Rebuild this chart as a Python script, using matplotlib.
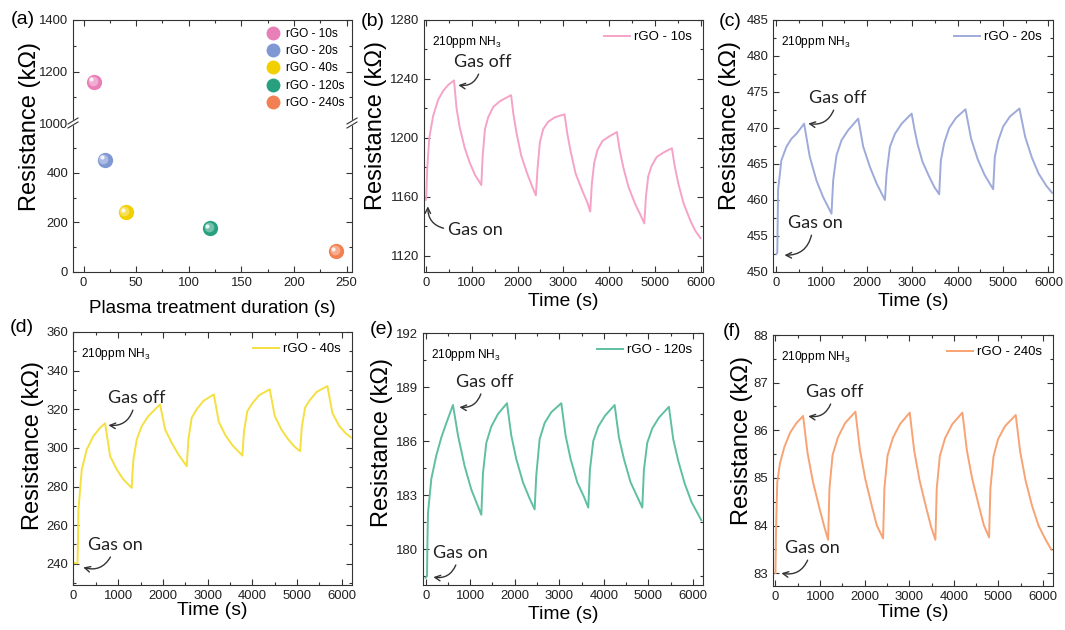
import numpy as np
import matplotlib
matplotlib.use("Agg")
import matplotlib.pyplot as plt
from matplotlib import font_manager
from matplotlib.ticker import MultipleLocator
from matplotlib.transforms import offset_copy
from matplotlib.colors import to_rgb
from matplotlib.lines import Line2D

# ---- panel (a): base resistance vs plasma time
durations = [10, 20, 40, 120, 240]
base_res = [1160, 450, 240, 176, 83]
sample_names = ["rGO - 10s", "rGO - 20s", "rGO - 40s", "rGO - 120s", "rGO - 240s"]
sphere_colors = ["#e97fb8", "#7f97d3", "#f2d000", "#27a080", "#f28052"]
line_colors = ["#f5a3c7", "#9eaad9", "#f4e040", "#5fbfa2", "#f7a374"]

# ---- panels (b)-(f): response to 210 ppm NH3
b_time = [0, 10, 30, 75, 160, 270, 380, 490, 615,
          670, 740, 850, 960, 1070, 1210,
          1240, 1290, 1360, 1470, 1620, 1860,
          1910, 1980, 2080, 2220, 2320, 2400,
          2436, 2487, 2560, 2670, 2815, 3025,
          3085, 3157, 3265, 3415, 3525, 3585,
          3621, 3672, 3745, 3855, 4000, 4167,
          4227, 4307, 4417, 4567, 4677, 4764,
          4800, 4851, 4924, 5034, 5179, 5367,
          5427, 5507, 5617, 5767, 5877, 5990]
b_res = [1158, 1160, 1179, 1200, 1215, 1226, 1232, 1236, 1239,
         1220, 1207, 1193, 1183, 1175, 1168,
         1188, 1206, 1214, 1221, 1225, 1229,
         1216, 1203, 1188, 1175, 1167, 1161,
         1179, 1197, 1206, 1211, 1214, 1216,
         1203, 1191, 1176, 1164, 1156, 1150,
         1169, 1183, 1192, 1198, 1201, 1204,
         1192, 1180, 1167, 1155, 1148, 1142,
         1160, 1174, 1181, 1187, 1190, 1193,
         1181, 1169, 1156, 1144, 1137, 1132]

c_time = [0, 20, 37, 110, 221, 331, 442, 589, 611,
          736, 884, 1031, 1215,
          1252, 1325, 1436, 1583, 1804,
          1915, 2062, 2209, 2393,
          2430, 2504, 2614, 2762, 2983,
          3043, 3115, 3223, 3373, 3483, 3590,
          3627, 3700, 3810, 3960, 4170,
          4295, 4443, 4590, 4780,
          4817, 4890, 5000, 5150, 5360,
          5485, 5633, 5780, 5950, 6080]
c_res = [452.5, 452.7, 461.4, 465.5, 467.4, 468.5, 469.2, 470.4, 470.6,
         466.0, 462.7, 460.4, 458.1,
         462.7, 466.2, 468.3, 469.7, 471.3,
         467.4, 464.6, 462.3, 460.0,
         463.7, 467.4, 469.2, 470.6, 472.0,
         469.9, 467.7, 465.3, 463.2, 461.8, 460.8,
         465.5, 467.9, 470.0, 471.4, 472.6,
         468.5, 465.6, 463.5, 461.5,
         466.0, 468.2, 470.2, 471.6, 472.7,
         468.8, 465.9, 463.7, 462.0, 461.0]

d_time = [0, 90, 100, 112, 186, 298, 447, 596, 708,
          820, 969, 1118, 1304,
          1315, 1341, 1416, 1528, 1677, 1937,
          2049, 2198, 2347, 2534,
          2571, 2645, 2757, 2906, 3140,
          3250, 3400, 3550, 3778,
          3815, 3889, 4001, 4150, 4390,
          4502, 4651, 4800, 4950, 5070,
          5107, 5181, 5293, 5442, 5680,
          5792, 5941, 6090, 6200]
d_res = [240.3, 240.3, 250, 268, 288.8, 299.2, 306.1, 310.4, 312.7,
         295.7, 288.8, 283.6, 279.3,
         285, 294, 304.4, 311.3, 316.5, 322.5,
         309.6, 302.6, 296.6, 290.5,
         304.4, 315.6, 320, 324.3, 327.7,
         313.5, 306.5, 301.5, 296,
         308.7, 319.0, 323.1, 327.2, 330.3,
         316.5, 309.5, 304.5, 300.5, 298.3,
         310.8, 320.9, 324.9, 329.0, 332.0,
         318, 311.5, 307.5, 305.5]

e_time = [0, 30, 40, 52, 127, 239, 352, 464, 613,
          726, 875, 1025, 1137, 1249,
          1286, 1361, 1473, 1623, 1825,
          1922, 2034, 2184, 2334, 2446,
          2483, 2558, 2670, 2820, 3044,
          3141, 3253, 3403, 3553, 3650,
          3687, 3762, 3874, 4024, 4241,
          4338, 4450, 4600, 4750, 4862,
          4899, 4974, 5086, 5236, 5460,
          5557, 5669, 5819, 5969, 6100, 6186]
e_res = [178.4, 178.5, 180.5, 182.0, 183.9, 185.2, 186.2, 187.0, 188.0,
         186.3, 184.6, 183.3, 182.6, 181.9,
         184.2, 185.9, 186.8, 187.5, 188.1,
         186.3, 185.0, 183.7, 182.8, 182.2,
         184.1, 186.1, 187.0, 187.6, 188.1,
         186.3, 185.0, 183.7, 182.9, 182.3,
         184.4, 186.0, 186.8, 187.4, 188.0,
         186.2, 185.0, 183.7, 182.9, 182.3,
         184.4, 185.9, 186.7, 187.3, 187.9,
         186.1, 184.9, 183.6, 182.6, 182.0, 181.6]

f_time = [0, 15, 40, 100, 200, 330, 470, 620,
          720, 840, 990, 1100, 1181,
          1211, 1281, 1401, 1561, 1794,
          1894, 2014, 2164, 2274, 2414,
          2444, 2514, 2634, 2794, 3012,
          3112, 3232, 3382, 3492, 3587,
          3617, 3687, 3807, 3967, 4193,
          4293, 4413, 4563, 4673, 4791,
          4821, 4891, 4991, 5151, 5389,
          5489, 5609, 5759, 5900, 6050, 6188]
f_res = [83.0, 84.0, 84.9, 85.3, 85.65, 85.95, 86.15, 86.3,
         85.52, 84.92, 84.35, 83.96, 83.7,
         84.78, 85.48, 85.85, 86.15, 86.39,
         85.59, 84.98, 84.4, 84.0, 83.73,
         84.79, 85.47, 85.84, 86.13, 86.37,
         85.57, 84.95, 84.37, 83.97, 83.7,
         84.77, 85.46, 85.84, 86.13, 86.37,
         85.58, 84.98, 84.41, 84.01, 83.75,
         84.78, 85.45, 85.81, 86.09, 86.32,
         85.55, 84.95, 84.4, 84.0, 83.72, 83.49]

# fonts: narrow face for horizontal texts if present
available = {f.name for f in font_manager.fontManager.ttflist}
if "Liberation Sans Narrow" in available:
    narrow, k = "Liberation Sans Narrow", 1.0
else:
    narrow, k = "Liberation Sans", 0.9
plt.rcParams["font.family"] = ["Liberation Sans", "DejaVu Sans"]
plt.rcParams["mathtext.fontset"] = "custom"
plt.rcParams["mathtext.rm"] = narrow
arrow_font = "Lato" if "Lato" in available else "DejaVu Sans"

W, H = 1065, 630
fig = plt.figure(figsize=(W / 100, H / 100), dpi=100)


def px_box(left, top, right, bottom):
    return [left / W, 1 - bottom / H, (right - left) / W, (bottom - top) / H]


def style_axis(ax):
    for s in ax.spines.values():
        s.set_linewidth(0.8)
        s.set_color("#333333")
    ax.tick_params(which="both", direction="in", top=True, right=True,
                   colors="#333333", labelcolor="#222222",
                   labelsize=10.5 * k, labelfontfamily=narrow, width=0.8)
    ax.tick_params(which="major", length=4)
    ax.tick_params(which="minor", length=2)


def sphere(ax, x, y, color):
    base = np.array(to_rgb(color))
    ax.plot(x, y, "o", ms=11, color=base, mec="none", zorder=3, clip_on=False)
    mid = base + (1 - base) * 0.35
    tr = offset_copy(ax.transData, fig=fig, x=-0.9, y=0.9, units="points")
    ax.plot(x, y, "o", ms=7, color=mid, mec="none", zorder=4, transform=tr)
    tr2 = offset_copy(ax.transData, fig=fig, x=-2.0, y=2.0, units="points")
    ax.plot(x, y, "o", ms=3, color="white", alpha=0.85, mec="none", zorder=5,
            transform=tr2)


# ---------- panel (a) with broken y axis
ax_top = fig.add_axes(px_box(73, 20, 352, 123))
ax_bot = fig.add_axes(px_box(73, 123, 352, 272))
for ax in (ax_top, ax_bot):
    style_axis(ax)
    ax.set_xlim(-10, 255)
    ax.xaxis.set_major_locator(MultipleLocator(50))
    ax.xaxis.set_minor_locator(MultipleLocator(25))
    ax.yaxis.set_minor_locator(MultipleLocator(100))
ax_top.set_ylim(1000, 1400)
ax_top.set_yticks([1000, 1200, 1400])
ax_top.spines["bottom"].set_visible(False)
ax_top.tick_params(axis="x", which="both", bottom=False, labelbottom=False)
ax_bot.set_ylim(0, 600)
ax_bot.set_yticks([0, 200, 400])
ax_bot.spines["top"].set_visible(False)
ax_bot.tick_params(axis="x", which="both", top=False)

for x, y, c in zip(durations, base_res, sphere_colors):
    sphere(ax_top if y >= 1000 else ax_bot, x, y, c)

handles = [Line2D([], [], ls="none", marker="o", ms=10, color=c, mec="none")
           for c in sphere_colors]
ax_top.legend(handles, sample_names, loc="upper right", frameon=False,
              prop=dict(family=narrow, size=9.5 * k), handletextpad=0.5,
              labelspacing=0.45, borderaxespad=0.25, handlelength=1.2)

# break marks
dx, dy, gap = 5 / 279, 3 / 149, 4 / 149
for x0 in (0, 1):
    ax_bot.fill([x0 - dx, x0 + dx, x0 + dx, x0 - dx],
                [1 - gap / 2 - dy, 1 - gap / 2 + dy, 1 + gap / 2 + dy, 1 + gap / 2 - dy],
                color="white", transform=ax_bot.transAxes, clip_on=False, zorder=10)
    for off in (-gap / 2, gap / 2):
        ax_bot.plot([x0 - dx, x0 + dx], [1 + off - dy, 1 + off + dy], color="#333333",
                    lw=0.8, transform=ax_bot.transAxes, clip_on=False, zorder=11)

ax_bot.set_xlabel("Plasma treatment duration (s)", fontsize=15 * k, family=narrow,
                  va="center")
ax_bot.xaxis.set_label_coords(0.498, -0.242)
fig.text(30 / W, 1 - 127 / H, "Resistance (k\u03a9)", rotation=90, ha="center",
         va="center", fontsize=17)


# ---------- panels (b)-(f)
def response_panel(box, t, r, color, name, xlim, ylim, ymajor, yminor,
                   ylab, xlab_y, off_txt, off_tip, on_txt, on_tip, on_rel):
    ax = fig.add_axes(px_box(*box))
    ax.plot(t, r, color=color, lw=1.4, label=name)
    ax.set_xlim(*xlim)
    ax.set_ylim(*ylim)
    ax.xaxis.set_major_locator(MultipleLocator(1000))
    ax.xaxis.set_minor_locator(MultipleLocator(500))
    ax.yaxis.set_major_locator(MultipleLocator(ymajor))
    ax.yaxis.set_minor_locator(MultipleLocator(yminor))
    style_axis(ax)
    ax.set_xlabel("Time (s)", fontsize=15.5 * k, family=narrow, va="center")
    ax.xaxis.set_label_coords(0.5, xlab_y)
    ax.set_ylabel("Resistance (k\u03a9)", fontsize=17, va="center")
    ax.yaxis.set_label_coords(*ylab)
    ax.text(0.029, 0.913, "210ppm NH$_3$", transform=ax.transAxes,
            fontsize=9.5 * k, family=narrow, va="center")
    ax.legend(loc="upper right", frameon=False, prop=dict(family=narrow, size=10.5 * k),
              handlelength=2.0, handletextpad=0.3, borderaxespad=0.45)
    arrow = dict(arrowstyle="->", color="#333333", lw=1.0,
                 connectionstyle="arc3,rad=-0.45", shrinkA=1, shrinkB=1,
                 mutation_scale=10)
    ax.annotate("Gas off", xy=off_tip, xycoords="axes fraction", xytext=off_txt,
                textcoords="axes fraction", ha="center", va="center",
                fontsize=13, family=arrow_font, color="#222222",
                arrowprops=dict(arrow, relpos=(0.45, 0.0)))
    ax.annotate("Gas on", xy=on_tip, xycoords="axes fraction", xytext=on_txt,
                textcoords="axes fraction", ha="center", va="center",
                fontsize=13, family=arrow_font, color="#222222",
                arrowprops=dict(arrow, relpos=on_rel))
    return ax


response_panel((424, 20, 703, 272), b_time, b_res, line_colors[0], sample_names[0],
               (-40, 6045), (1109, 1280), 40, 20, (-0.173, 0.58), -0.119,
               (0.211, 0.833), (0.118, 0.742), (0.183, 0.167), (0.014, 0.266), (0.0, 0.55))
response_panel((773, 20, 1053, 272), c_time, c_res, line_colors[1], sample_names[1],
               (-75, 6100), (450, 485), 5, 2.5, (-0.152, 0.583), -0.119,
               (0.232, 0.69), (0.121, 0.59), (0.15, 0.194), (0.036, 0.067), (0.45, 0.0))
response_panel((73, 332, 352, 585), d_time, d_res, line_colors[2], sample_names[2],
               (-10, 6230), (229, 360), 20, 10, (-0.145, 0.553), -0.099,
               (0.229, 0.739), (0.122, 0.632), (0.151, 0.158), (0.032, 0.071), (0.45, 0.0))
response_panel((423, 333, 703, 585), e_time, e_res, line_colors[3], sample_names[3],
               (-60, 6225), (178, 192), 3, 1.5, (-0.148, 0.567), -0.119,
               (0.221, 0.806), (0.125, 0.706), (0.132, 0.127), (0.032, 0.032), (0.45, 0.0))
response_panel((773, 335, 1053, 586), f_time, f_res, line_colors[4], sample_names[4],
               (-55, 6225), (82.73, 88), 1, 0.5, (-0.11, 0.58), -0.107,
               (0.221, 0.773), (0.121, 0.677), (0.139, 0.151), (0.025, 0.052), (0.45, 0.0))

# panel letters
for lab, (x, y) in zip(["(a)", "(b)", "(c)", "(d)", "(e)", "(f)"],
                       [(23, 20), (373, 21), (730, 22), (22, 327), (382, 330), (732, 331)]):
    fig.text(x / W, 1 - y / H, lab, ha="center", va="center", fontsize=14)

fig.savefig("out.png", dpi=100)
